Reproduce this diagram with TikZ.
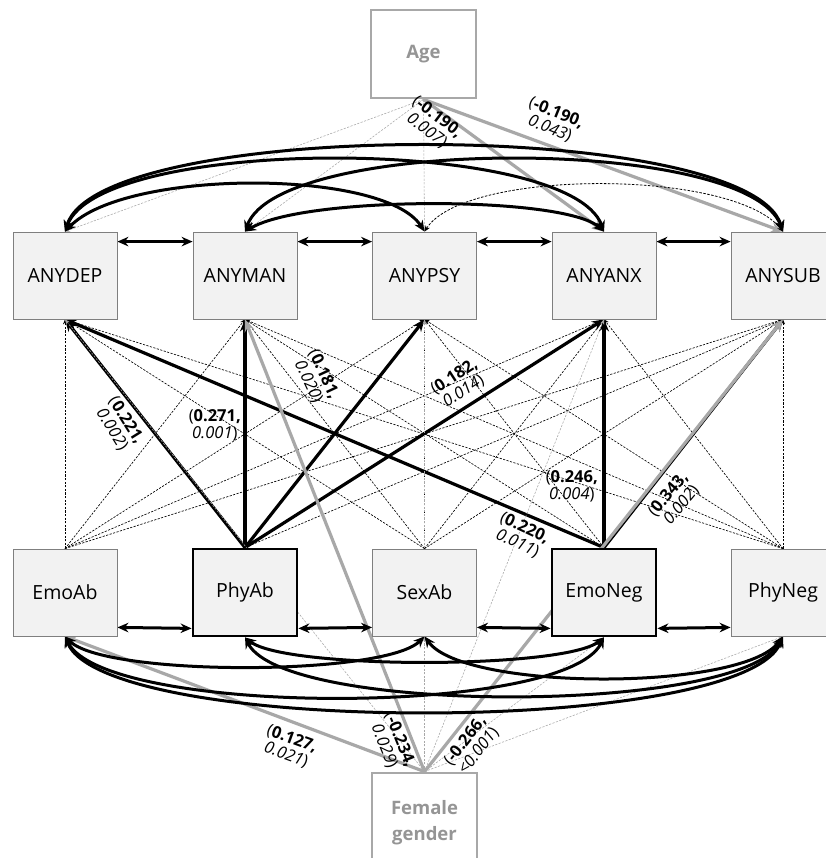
\documentclass[tikz,border=0pt]{standalone}
\usepackage{fontspec}
\setmainfont{Open Sans}
\usetikzlibrary{arrows.meta,backgrounds}
\definecolor{boxfill}{HTML}{F2F2F2}
\definecolor{boxline}{HTML}{7F7F7F}
\definecolor{gline}{HTML}{A8A8A8}
\definecolor{gtext}{HTML}{959595}
\begin{document}
\begin{tikzpicture}[x=1pt,y=-1pt,
  vbox/.style={draw=boxline, line width=0.8pt, fill=boxfill, minimum width=104pt, minimum height=87pt, inner sep=0pt, font=\fontsize{19.5}{22}\selectfont},
  keybox/.style={vbox, draw=black, line width=2.8pt},
  covbox/.style={draw=gline, line width=2.8pt, fill=white, minimum width=105pt, minimum height=88pt, inner sep=0pt, text=gtext, align=center, font=\fontsize{18.5}{26}\selectfont\bfseries},
  strong/.style={line width=3.2pt, -{Stealth[length=12pt,width=10pt]}},
  weak/.style={line width=0.65pt, dash pattern=on 2.2pt off 1.4pt, -{Stealth[length=5pt,width=4pt]}},
  gstrong/.style={strong, draw=gline},
  gweak/.style={weak, draw=gline, line width=0.55pt},
  cov/.style={line width=3pt, {Stealth[length=11pt,width=9.5pt]}-{Stealth[length=11pt,width=9.5pt]}},
  covweak/.style={line width=0.8pt, dash pattern=on 2.5pt off 1.5pt, {Stealth[length=6pt,width=5pt]}-{Stealth[length=6pt,width=5pt]}},
  lab/.style={font=\fontsize{16.5}{17}\selectfont, align=center, inner sep=0pt}
]
\useasboundingbox (0,0) rectangle (825,858);

% nodes
\node[covbox] (age) at (423.5,54) {Age};
\node[vbox] (T1) at (65,275.5) {ANYDEP};
\node[vbox] (T2) at (245,275.5) {ANYMAN};
\node[vbox] (T3) at (424.5,275.5) {ANYPSY};
\node[vbox] (T4) at (604,275.5) {ANYANX};
\node[vbox] (T5) at (783,275.5) {ANYSUB};
\node[vbox] (B1) at (65,592.5) {EmoAb};
\node[keybox] (B2) at (245,592.5) {PhyAb};
\node[vbox] (B3) at (424.5,592.5) {SexAb};
\node[keybox] (B4) at (604,592.5) {EmoNeg};
\node[vbox] (B5) at (783,592.5) {PhyNeg};
\node[covbox, minimum height=100pt] (fem) at (424.5,823) {Female\\gender};

\begin{scope}[on background layer]
\fill[white] (0,0) rectangle (825,858);
% thin paths from predictors to outcomes
\foreach \b/\t in {B1/T1,B1/T2,B1/T3,B1/T4,B1/T5,B2/T5,B3/T1,B3/T2,B3/T3,B3/T4,B3/T5,B4/T2,B4/T3,B5/T1,B5/T2,B5/T3,B5/T4,B5/T5}
  \draw[weak] (\b.north) -- (\t.south);
% significant paths
\foreach \b/\t in {B2/T1,B2/T2,B2/T3,B2/T4,B4/T1,B4/T4,B4/T5}
  \draw[strong] (\b.north) -- (\t.south);
% age
\foreach \t in {T1,T2,T3} \draw[gweak] (age.south) -- (\t.north);
\draw[gstrong] (age.south) -- (T4.north);
\draw[gstrong] (age.south) -- (T5.north);
% female gender
\foreach \t in {T1,T3,T4} \draw[gweak] (fem.north) -- (\t.south);
\foreach \t in {B3,B4,B5} \draw[gweak] (fem.north) -- (\t.south);
\draw[gstrong] (fem.north) -- (B1.south);
\draw[gstrong] (fem.north) -- (T2.south);
\draw[gstrong] (fem.north) -- (T5.south);
% adjacent covariances
\foreach \a/\b in {T1/T2,T2/T3,T3/T4,T4/T5}
  \draw[cov] ([yshift=-10pt]\a.north east) -- ([yshift=-10pt]\b.north west);
\foreach \a/\b in {B1/B2,B2/B3,B3/B4,B4/B5}
  \draw[cov] ([yshift=9pt]\a.south east) -- ([yshift=9pt]\b.south west);
% top curved covariances
\draw[cov] (T1.north) .. controls +(35,-114) and +(-35,-114) .. (T5.north);
\draw[cov] (T1.north) .. controls +(35,-96) and +(-35,-96) .. (T4.north);
\draw[cov] (T2.north) .. controls +(35,-96) and +(-35,-96) .. (T5.north);
\draw[cov] (T1.north) .. controls +(60,-63) and +(-40,-63) .. (T3.north);
\draw[cov] (T2.north) .. controls +(60,-36) and +(-40,-36) .. (T4.north);
\draw[covweak] (T3.north) .. controls +(40,-63) and +(-50,-63) .. (T5.north);
% bottom curved covariances
\draw[cov] (B1.south) .. controls +(40,40) and +(-40,40) .. (B3.south);
\draw[cov] (B2.south) .. controls +(40,32) and +(-40,32) .. (B4.south);
\draw[cov] (B3.south) .. controls +(40,55) and +(-40,55) .. (B5.south);
\draw[cov] (B1.south) .. controls +(40,80) and +(-40,80) .. (B4.south);
\draw[cov] (B2.south) .. controls +(40,78) and +(-40,78) .. (B5.south);
\draw[cov] (B1.south) .. controls +(40,100) and +(-40,100) .. (B5.south);
\end{scope}

% labels
\node[lab, rotate=-37] (l1) at (432,124) {(\textbf{-0.190,}\\\textit{0.007})};
\node[lab, rotate=-22] (l2) at (553,121) {(\textbf{-0.190,}\\\textit{0.043})};
\node[lab, rotate=-58] (l3) at (119,425) {(\textbf{0.221,}\\\textit{0.002})};
\node[lab, anchor=east] (l4) at (241,425) {(\textbf{0.271,}\\\textit{0.001})};
\node[lab, rotate=-65] (l5) at (316,378) {(\textbf{0.181,}\\\textit{0.020})};
\node[lab, rotate=33] (l6) at (459,384) {(\textbf{0.182,}\\\textit{0.014})};
\node[lab, anchor=east] (l7) at (598,486) {(\textbf{0.246,}\\\textit{0.004})};
\node[lab, rotate=50] (l8) at (675,500) {(\textbf{0.343,}\\\textit{0.002})};
\node[lab, rotate=-25] (l9) at (521,536) {(\textbf{0.220,}\\\textit{0.011})};
\node[lab, rotate=-20] (l10) at (289,747) {(\textbf{0.127,}\\\textit{0.021})};
\node[lab, rotate=-68] (l11) at (392,743) {(\textbf{-0.234,}\\\textit{0.029})};
\node[lab, rotate=52] (l12) at (472,746) {(\textbf{-0.266,}\\\textit{<0.001})};
\end{tikzpicture}
\end{document}
